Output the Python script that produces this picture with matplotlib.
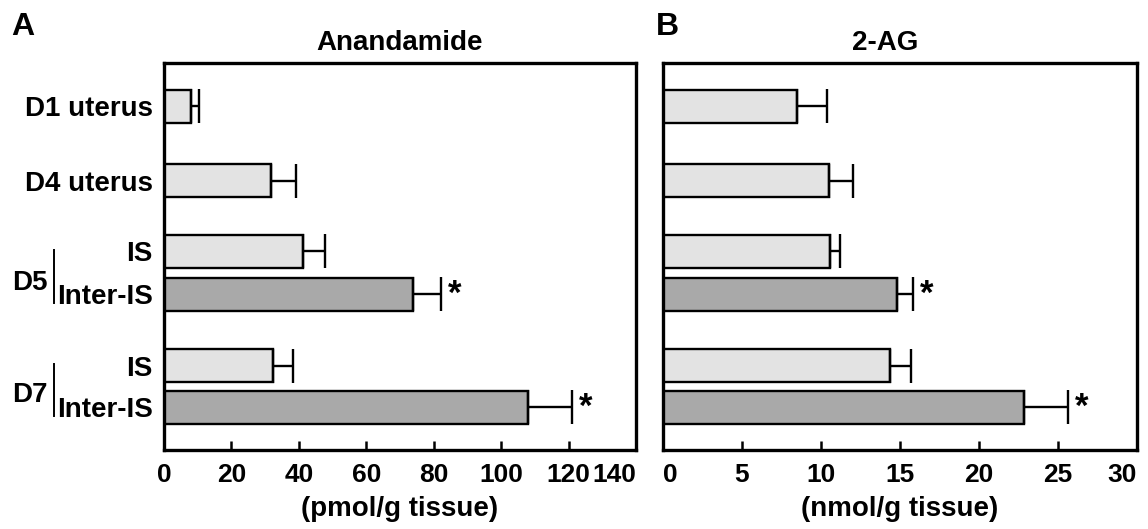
import numpy as np
import matplotlib.pyplot as plt
from matplotlib.transforms import blended_transform_factory

plt.rcParams['font.family'] = ['Liberation Sans', 'DejaVu Sans']
plt.rcParams['font.weight'] = 'bold'

# ---------- data ----------
row_labels = ["D1 uterus", "D4 uterus", "IS", "Inter-IS", "IS", "Inter-IS"]
row_pos = [11.2, 30.4, 48.7, 59.8, 78.2, 88.9]
is_inter = [False, False, False, True, False, True]
groups = [("D5", 2, 3), ("D7", 4, 5)]

aea_mean = [8.0, 31.8, 41.3, 73.9, 32.4, 108.0]
aea_err = [2.4, 7.3, 6.4, 8.2, 6.0, 13.0]
ag_mean = [8.5, 10.5, 10.6, 14.8, 14.4, 22.85]
ag_err = [1.9, 1.5, 0.6, 1.05, 1.3, 2.8]
signif = [False, False, False, True, False, True]

light = '#e3e3e3'
dark = '#a9a9a9'
bar_h = 8.5

fig = plt.figure(figsize=(11.48, 5.29), dpi=100)
axA = fig.add_axes([0.1429, 0.1493, 0.4111, 0.7316])
axB = fig.add_axes([0.5775, 0.1493, 0.4129, 0.7316])


def draw_panel(ax, means, errs, xmax, xticks, title, title_x, xlabel, first_left):
    colors = [dark if d else light for d in is_inter]
    ax.barh(row_pos, means, height=bar_h, color=colors, edgecolor='black',
            linewidth=1.7, zorder=2)
    ax.errorbar(means, row_pos, xerr=[np.zeros(len(means)), errs], fmt='none',
                ecolor='black', elinewidth=1.7, capsize=12, capthick=1.7, zorder=3)
    for m, e, y, s in zip(means, errs, row_pos, signif):
        if s:
            ax.annotate('*', xy=(m + e, y), xytext=(5, 0), textcoords='offset points',
                        ha='left', va='center', fontsize=25, fontweight='bold')
    ax.set_xlim(0, xmax)
    ax.set_ylim(100, 0)
    ax.set_xticks(xticks)
    ax.set_xticklabels([str(t) for t in xticks])
    ax.tick_params(axis='x', direction='in', length=6.5, width=1.8, pad=9,
                   labelsize=19)
    labels = ax.get_xticklabels()
    labels[-1].set_ha('right')
    if first_left:
        labels[0].set_ha('left')
    ax.set_yticks([])
    for sp in ax.spines.values():
        sp.set_linewidth(2.4)
    ax.set_xlabel(xlabel, fontsize=20, fontweight='bold', labelpad=7)
    fig.text(title_x, 1 - 43 / 529, title, ha='center', va='center',
             fontsize=20, fontweight='bold')


draw_panel(axA, aea_mean, aea_err, 140, list(range(0, 141, 20)),
           "Anandamide", 400 / 1148, "(pmol/g tissue)", False)
draw_panel(axB, ag_mean, ag_err, 30, list(range(0, 31, 5)),
           "2-AG", 885 / 1148, "(nmol/g tissue)", True)

# row labels on panel A
axA.set_yticks(row_pos)
axA.set_yticklabels(row_labels)
axA.tick_params(axis='y', length=0, pad=8, labelsize=20)

# D5 / D7 group brackets
trans = blended_transform_factory(axA.transAxes, axA.transData)
for name, i0, i1 in groups:
    y0 = row_pos[i0] - 0.4
    y1 = row_pos[i1] + 2.2
    axA.plot([-0.233, -0.233], [y0, y1], color='black', linewidth=1.4,
             transform=trans, clip_on=False)
    axA.text(-0.322, row_pos[i1] - 3.0, name, transform=trans, ha='left',
             va='center', fontsize=20, fontweight='bold')

# panel letters
fig.text(11 / 1148, 1 - 27 / 529, "A", ha='left', va='center', fontsize=23,
         fontweight='bold')
fig.text(656 / 1148, 1 - 27 / 529, "B", ha='left', va='center', fontsize=23,
         fontweight='bold')

plt.savefig('out.png', dpi=100)
